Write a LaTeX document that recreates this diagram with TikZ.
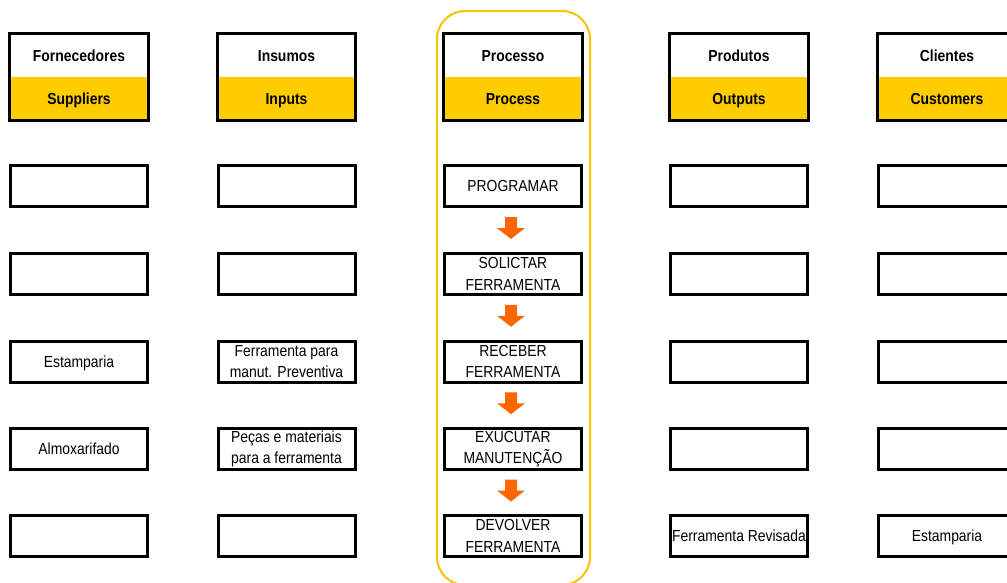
\documentclass[tikz,border=0pt]{standalone}
\usepackage{fontspec}
\setmainfont{Liberation Sans}[FakeStretch=0.87]
\usetikzlibrary{calc}
\definecolor{hdryellow}{RGB}{255,204,0}
\definecolor{lineyellow}{RGB}{255,192,0}
\definecolor{arroworange}{RGB}{255,102,0}
\tikzset{
  cell/.style={draw=black, line width=3pt, minimum width=137pt, minimum height=41pt, inner sep=0pt,
    font=\fontsize{16}{21.5}\selectfont, align=center},
  onecell/.style={cell, text height=11.5pt, text depth=0pt},
  twocell/.style={cell},
  hdrtop/.style={minimum width=138pt, minimum height=43.5pt, inner sep=0pt,
    font=\fontsize{16}{21.5}\selectfont\bfseries, text height=11.5pt, text depth=0pt},
  hdrbot/.style={hdrtop, fill=hdryellow},
  hdrframe/.style={draw=black, line width=3pt},
  procframe/.style={draw=lineyellow, line width=2pt, rounded corners=28pt},
  blockarrow/.style={fill=arroworange}
}
\begin{document}
\begin{tikzpicture}[x=1pt,y=-1pt]
\useasboundingbox (0,0) rectangle (1007,582);
\clip (0,0) rectangle (1007,582);
% process column outline
\draw[procframe] (437,11) rectangle (590,585);
% headers
\foreach \n/\x/\top/\bot in {h1/79/Fornecedores/Suppliers, h2/286.5/Insumos/Inputs, h3/513/Processo/Process, h4/739/Produtos/Outputs, h5/947/Clientes/Customers}{
  \node[hdrtop] (\n t) at (\x,55.25) {\top};
  \node[hdrbot] (\n b) at (\x,98.75) {\bot};
  \draw[hdrframe] (\n t.north west) rectangle (\n b.south east);
}
% column 1: suppliers
\node[onecell] (s1) at (79,186) {};
\node[onecell] (s2) at (79,274) {};
\node[onecell] (s3) at (79,361.5) {Estamparia};
\node[onecell] (s4) at (79,449) {Almoxarifado};
\node[onecell] (s5) at (79,536) {};
% column 2: inputs
\node[onecell] (i1) at (286.5,186) {};
\node[onecell] (i2) at (286.5,274) {};
\node[twocell] (i3) at (286.5,361.5) {\raisebox{-1pt}{\parbox{137pt}{\centering Ferramenta para\\manut. Preventiva}}};
\node[twocell] (i4) at (286.5,449) {\raisebox{-1pt}{\parbox{137pt}{\centering Peças e materiais\\para a ferramenta}}};
\node[onecell] (i5) at (286.5,536) {};
% column 3: process
\node[onecell] (p1) at (513,186) {PROGRAMAR};
\node[twocell] (p2) at (513,274) {\raisebox{-3pt}{\parbox{137pt}{\centering SOLICTAR\\FERRAMENTA}}};
\node[twocell] (p3) at (513,361.5) {\raisebox{-3pt}{\parbox{137pt}{\centering RECEBER\\FERRAMENTA}}};
\node[twocell] (p4) at (513,449) {\raisebox{-3pt}{\parbox{137pt}{\centering EXUCUTAR\\MANUTENÇÃO}}};
\node[twocell] (p5) at (513,536) {\raisebox{-3pt}{\parbox{137pt}{\centering DEVOLVER\\FERRAMENTA}}};
% column 4: outputs
\node[onecell] (o1) at (739,186) {};
\node[onecell] (o2) at (739,274) {};
\node[onecell] (o3) at (739,361.5) {};
\node[onecell] (o4) at (739,449) {};
\node[onecell] (o5) at (739,536) {Ferramenta Revisada};
% column 5: customers
\node[onecell] (c1) at (947,186) {};
\node[onecell] (c2) at (947,274) {};
\node[onecell] (c3) at (947,361.5) {};
\node[onecell] (c4) at (947,449) {};
\node[onecell] (c5) at (947,536) {Estamparia};
% block arrows between process steps
\foreach \a/\b in {p1/p2, p2/p3, p3/p4, p4/p5}{
  \coordinate (m\a) at ($(\a.south)!0.5!(\b.north)+(-2,-2)$);
  \fill[blockarrow] ($(m\a)+(-6,-11)$) -- ($(m\a)+(6,-11)$) -- ($(m\a)+(6,0)$) -- ($(m\a)+(14,0)$)
    -- ($(m\a)+(0,11)$) -- ($(m\a)+(-14,0)$) -- ($(m\a)+(-6,0)$) -- cycle;
}
\end{tikzpicture}
\end{document}
